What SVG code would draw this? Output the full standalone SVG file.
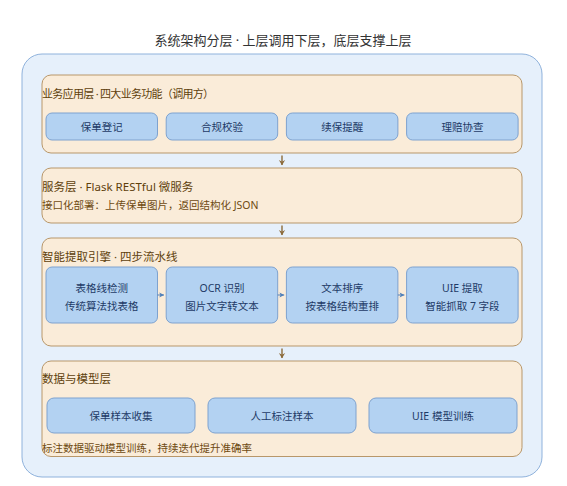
<svg xmlns="http://www.w3.org/2000/svg" width="567" height="486" viewBox="0 0 567 486">
<defs>
<style>
text{font-family:"Noto Sans","Noto Sans CJK SC",sans-serif;dominant-baseline:central}
.title{font-size:13px;fill:#333333;text-anchor:middle}
.outer{fill:#e6f0fb;stroke:#8fb2dc;stroke-width:1}
.layer{fill:#faecd9;stroke:#b8976a;stroke-width:1}
.node{fill:#b3d2f2;stroke:#7ea2cf;stroke-width:1}
.lh{font-size:11.5px;fill:#5e3f0c}
.ld{font-size:10.5px;fill:#6e4a12}
.nt{font-size:10.5px;fill:#1e3a66;text-anchor:middle}
.down{stroke:#8b6a3a;stroke-width:1.4;fill:none}
.step{stroke:#4f7fb8;stroke-width:1;fill:none}
</style>
<marker id="ah" viewBox="0 0 10 10" refX="9" refY="5" markerWidth="7" markerHeight="8" orient="auto" markerUnits="userSpaceOnUse">
<path d="M2,0.5 L9.5,5 L2,9.5 L4.5,5 Z" fill="#8b6a3a"/>
</marker>
<marker id="as" viewBox="0 0 10 10" refX="9" refY="5" markerWidth="6" markerHeight="7" orient="auto" markerUnits="userSpaceOnUse">
<path d="M1,1 L9,5 L1,9 L3,5 Z" fill="#4f7fb8"/>
</marker>
</defs>
<rect width="567" height="486" fill="#ffffff"/>
<text class="title" x="283" y="39.5">系统架构分层 · 上层调用下层，底层支撑上层</text>
<g id="container">
<rect class="outer" x="22" y="54" width="520" height="423" rx="20"/>
</g>
<g id="layer-app">
<rect class="layer" x="42" y="75" width="480" height="78" rx="9"/>
<text class="lh" x="42" y="93.5" style="font-size:11px;letter-spacing:-0.7px">业务应用层 · 四大业务功能（调用方）</text>
</g>
<g id="node-register"><rect class="node" x="46" y="113" width="111.5" height="27" rx="6"/><text class="nt" x="101.8" y="127">保单登记</text></g>
<g id="node-compliance"><rect class="node" x="166.2" y="113" width="111.5" height="27" rx="6"/><text class="nt" x="222" y="127">合规校验</text></g>
<g id="node-renewal"><rect class="node" x="286.4" y="113" width="111.5" height="27" rx="6"/><text class="nt" x="342.2" y="127">续保提醒</text></g>
<g id="node-claims"><rect class="node" x="406.6" y="113" width="111.5" height="27" rx="6"/><text class="nt" x="462.4" y="127">理赔协查</text></g>
<g id="layer-service">
<rect class="layer" x="42" y="168" width="480" height="55" rx="9"/>
<text class="lh" x="42" y="186">服务层 · Flask RESTful 微服务</text>
<text class="ld" x="42" y="205">接口化部署：上传保单图片，返回结构化 JSON</text>
</g>
<g id="layer-engine">
<rect class="layer" x="42" y="238" width="480" height="108" rx="9"/>
<text class="lh" x="42" y="256">智能提取引擎 · 四步流水线</text>
</g>
<g id="node-table"><rect class="node" x="46" y="267" width="111.5" height="56" rx="6"/><text class="nt" x="101.8" y="287.5">表格线检测</text><text class="nt" x="101.8" y="305.5">传统算法找表格</text></g>
<g id="node-ocr"><rect class="node" x="166.2" y="267" width="111.5" height="56" rx="6"/><text class="nt" x="222" y="287.5">OCR 识别</text><text class="nt" x="222" y="305.5">图片文字转文本</text></g>
<g id="node-sort"><rect class="node" x="286.4" y="267" width="111.5" height="56" rx="6"/><text class="nt" x="342.2" y="287.5">文本排序</text><text class="nt" x="342.2" y="305.5">按表格结构重排</text></g>
<g id="node-uie"><rect class="node" x="406.6" y="267" width="111.5" height="56" rx="6"/><text class="nt" x="462.4" y="287.5">UIE 提取</text><text class="nt" x="462.4" y="305.5">智能抓取 7 字段</text></g>
<g id="layer-data">
<rect class="layer" x="42" y="361" width="480" height="95.5" rx="9"/>
<text class="lh" x="42" y="378.5">数据与模型层</text>
<text class="ld" x="42" y="447.5">标注数据驱动模型训练，持续迭代提升准确率</text>
</g>
<g id="node-samples"><rect class="node" x="47" y="398" width="148" height="35" rx="7"/><text class="nt" x="121" y="416">保单样本收集</text></g>
<g id="node-label"><rect class="node" x="208" y="398" width="148" height="35" rx="7"/><text class="nt" x="282" y="416">人工标注样本</text></g>
<g id="node-train"><rect class="node" x="369" y="398" width="148" height="35" rx="7"/><text class="nt" x="443" y="416">UIE 模型训练</text></g>
<g id="connectors">
<line class="down" x1="282" y1="155.5" x2="282" y2="165" marker-end="url(#ah)"/>
<line class="down" x1="282" y1="225.5" x2="282" y2="235" marker-end="url(#ah)"/>
<line class="down" x1="282" y1="348.5" x2="282" y2="358" marker-end="url(#ah)"/>
<line class="step" x1="157.5" y1="295" x2="164" y2="295" marker-end="url(#as)"/>
<line class="step" x1="277.7" y1="295" x2="284.2" y2="295" marker-end="url(#as)"/>
<line class="step" x1="397.9" y1="295" x2="404.4" y2="295" marker-end="url(#as)"/>
</g>
</svg>
